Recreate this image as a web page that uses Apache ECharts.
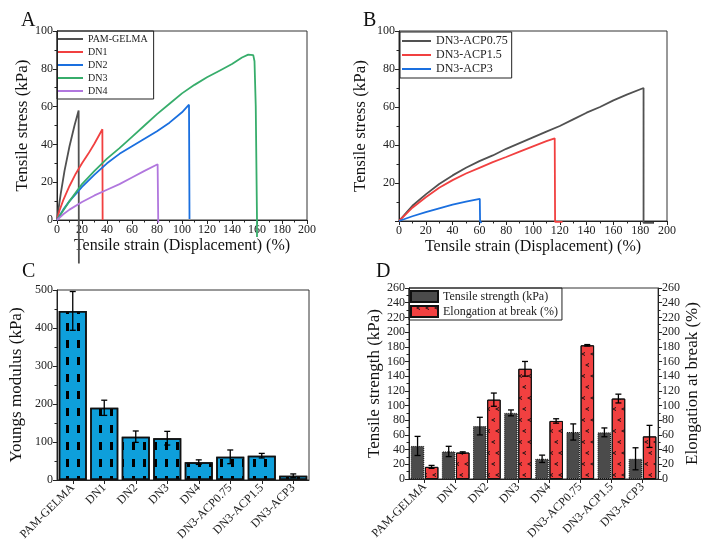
<!DOCTYPE html>
<html><head><meta charset="utf-8">
<script src="https://cdn.jsdelivr.net/npm/echarts@6/dist/echarts.min.js"></script>
<style>html,body{margin:0;padding:0;background:#fff}#c{width:702px;height:544px}</style>
</head><body><div id="c"></div><script>
const FONT = '"Liberation Serif","Times New Roman",serif';

// ---- Panel A: stress-strain curves [strain %, stress kPa]
const pamGelmaCurve = [[0,0],[1,5],[3,14],[6,26],[10,39],[14,50],[17.3,58],[17.5,-23]];
const dn1Curve = [[0,0],[2,5],[5,10.5],[10,18],[15,24.5],[20,30],[25,35],[30,40.5],[36.3,48],[36.5,0]];
const dn2Curve = [[0,0],[5,5.5],[10,10],[20,17.5],[30,24],[40,30],[50,35],[60,39],[70,43],[80,47],[90,51.5],[100,57],[105.6,61],[106,0.5]];
const dn3Curve = [[0,0],[5,5],[10,10],[20,19],[30,26],[40,32.5],[50,38],[60,44],[70,50],[80,56],[90,61.5],[100,67],[110,71.5],[120,75.5],[130,79],[140,82.5],[148,86],[153,87.5],[157,87.2],[158,84],[159,60],[160,0],[160,-9]];
const dn4Curve = [[0,0],[5,3],[10,5.5],[20,9.5],[30,13],[40,16],[50,19],[60,22.5],[70,26],[80.5,29.5],[81,-1.5]];

// ---- Panel B
const acp075Curve = [[0,0],[5,4],[10,8],[20,14],[30,19.5],[40,24],[50,28],[60,31.5],[70,34.5],[80,38],[90,41],[100,44],[110,47],[120,50],[130,53.5],[140,57],[150,60],[160,63.5],[170,66.5],[182.5,70],[182.5,-1],[190,-1]];
const acp15Curve = [[0,0],[5,3.5],[10,7],[20,12.5],[30,17.5],[40,21.5],[50,25],[60,28],[70,31],[80,33.7],[90,36.5],[100,39.3],[110,42],[116.2,43.5],[116.5,-0.5],[122,-0.5]];
const acp3Curve = [[0,0],[10,2.5],[20,4.7],[30,6.7],[40,8.6],[50,10.2],[60.3,11.7],[60.5,0],[61.5,-1]];

// ---- Panels C & D
const categories = ['PAM-GELMA','DN1','DN2','DN3','DN4','DN3-ACP0.75','DN3-ACP1.5','DN3-ACP3'];
const youngs = [445,190,114,110,47,61,64,11];
const youngsErr = [51,20,15,18,6,18,6,5];
const strength = [45,37.5,72,90,27.5,64,63.5,27.5];
const strengthErr = [13,7,12,4,5,11,6,15];
const elongation = [16.5,36,108,150,79,182,109.5,58];
const elongationErr = [2,1,9,10,3,1,6,15];

const C_ORI = ['#515151','#F14040','#1A6FDF','#37AD6B','#B177DE'];

function valAxis(extra){
  return Object.assign({
    type:'value',
    axisLine:{show:true,onZero:false,lineStyle:{color:'#222',width:1}},
    axisTick:{show:true,inside:false,length:4,lineStyle:{color:'#222'}},
    minorTick:{show:true,splitNumber:2,length:2.5,lineStyle:{color:'#222'}},
    splitLine:{show:false},
    axisLabel:{color:'#222',fontFamily:FONT,fontSize:12,margin:4},
    nameTextStyle:{color:'#111',fontFamily:FONT,fontSize:17},
    nameLocation:'middle'
  }, extra);
}
function catAxis(extra){
  return Object.assign({
    type:'category', data:categories,
    axisLine:{show:true,lineStyle:{color:'#222',width:1}},
    axisTick:{show:true,alignWithLabel:true,length:4,lineStyle:{color:'#222'}},
    axisLabel:{color:'#222',fontFamily:FONT,fontSize:12,rotate:45,margin:6,interval:0},
    splitLine:{show:false}
  }, extra);
}
function lineSeries(name, data, color, xi, clip){
  return {type:'line', name, data, xAxisIndex:xi, yAxisIndex:xi, symbol:'none',
    lineStyle:{color, width:1.8}, itemStyle:{color}, clip: clip!==false, z:3};
}
function errSeries(xi, yi, vals, errs, offset, cap){
  return {type:'custom', xAxisIndex:xi, yAxisIndex:yi, z:10, silent:true,
    data: vals.map((v,i)=>[i, v-errs[i], v+errs[i]]),
    encode:{x:0,y:[1,2]},
    renderItem:(params, api)=>{
      const lo = api.coord([api.value(0), api.value(1)]);
      const hi = api.coord([api.value(0), api.value(2)]);
      const x = lo[0]+offset;
      const st = {stroke:'#000', lineWidth:1.3};
      return {type:'group', children:[
        {type:'line',shape:{x1:x,y1:lo[1],x2:x,y2:hi[1]},style:st},
        {type:'line',shape:{x1:x-cap,y1:hi[1],x2:x+cap,y2:hi[1]},style:st},
        {type:'line',shape:{x1:x-cap,y1:lo[1],x2:x+cap,y2:lo[1]},style:st}
      ]};
    }};
}

const gridBase = {show:true, borderColor:'#333', borderWidth:1, backgroundColor:'transparent'};
const chart = echarts.init(document.getElementById('c'));
chart.setOption({
  animation:false,
  backgroundColor:'#fff',
  textStyle:{fontFamily:FONT},
  grid:[
    Object.assign({left:57, top:31, width:250, height:189}, gridBase),
    Object.assign({left:399, top:31, width:268, height:190}, gridBase),
    Object.assign({left:57, top:290, width:252, height:190}, gridBase),
    Object.assign({left:409, top:288, width:253, height:191}, gridBase)
  ],
  xAxis:[
    valAxis({gridIndex:0, min:0, max:200, interval:20, name:'Tensile strain (Displacement) (%)', nameGap:18, nameTextStyle:{color:'#111',fontFamily:FONT,fontSize:16}}),
    valAxis({gridIndex:1, min:0, max:200, interval:20, name:'Tensile strain (Displacement) (%)', nameGap:18, nameTextStyle:{color:'#111',fontFamily:FONT,fontSize:16}}),
    catAxis({gridIndex:2}),
    catAxis({gridIndex:3})
  ],
  yAxis:[
    valAxis({gridIndex:0, min:0, max:100, interval:20, name:'Tensile stress (kPa)', nameGap:26}),
    valAxis({gridIndex:1, min:0, max:100, interval:20, name:'Tensile stress (kPa)', nameGap:30, axisLabel:{color:'#222',fontFamily:FONT,fontSize:12,margin:4,showMinLabel:false}}),
    valAxis({gridIndex:2, min:0, max:500, interval:100, name:'Youngs modulus (kPa)', nameGap:32}),
    valAxis({gridIndex:3, min:0, max:260, interval:20, name:'Tensile strength (kPa)', nameGap:26}),
    valAxis({gridIndex:3, min:0, max:260, interval:20, position:'right', name:'Elongation at break (%)', nameGap:24, nameRotate:90})
  ],
  legend:[
    {left:57, top:31, orient:'vertical', data:['PAM-GELMA','DN1','DN2','DN3','DN4'], icon:'rect',
     itemWidth:25, itemHeight:2, itemGap:3, textStyle:{fontFamily:FONT,fontSize:10,color:'#222',lineHeight:9.5},
     borderColor:'#222', borderWidth:1, padding:[3,6,3,1]},
    {left:400, top:32, orient:'vertical', data:['DN3-ACP0.75','DN3-ACP1.5','DN3-ACP3'], icon:'rect',
     itemWidth:29, itemHeight:2, itemGap:2, textStyle:{fontFamily:FONT,fontSize:12,color:'#222',lineHeight:11.5},
     borderColor:'#222', borderWidth:1, padding:[3,4,3,2]},
    {left:409, top:288, orient:'vertical', data:['Tensile strength (kPa)','Elongation at break (%)'], icon:'rect',
     itemWidth:27, itemHeight:11, itemGap:2, textStyle:{fontFamily:FONT,fontSize:12,color:'#222'},
     borderColor:'#222', borderWidth:1, padding:[2,4,2,1]}
  ],
  graphic:[
    {type:'text', left:21, top:11, style:{text:'A', font:'20px '+FONT, fill:'#111'}},
    {type:'text', left:363, top:11, style:{text:'B', font:'20px '+FONT, fill:'#111'}},
    {type:'text', left:22, top:262, style:{text:'C', font:'20px '+FONT, fill:'#111'}},
    {type:'text', left:376, top:262, style:{text:'D', font:'20px '+FONT, fill:'#111'}}
  ],
  series:[
    lineSeries('PAM-GELMA', pamGelmaCurve, C_ORI[0], 0, false),
    lineSeries('DN1', dn1Curve, C_ORI[1], 0),
    lineSeries('DN2', dn2Curve, C_ORI[2], 0),
    lineSeries('DN3', dn3Curve, C_ORI[3], 0, false),
    lineSeries('DN4', dn4Curve, C_ORI[4], 0, false),
    lineSeries('DN3-ACP0.75', acp075Curve, C_ORI[0], 1, false),
    lineSeries('DN3-ACP1.5', acp15Curve, C_ORI[1], 1, false),
    lineSeries('DN3-ACP3', acp3Curve, C_ORI[2], 1, false),
    {type:'bar', name:'Youngs modulus', xAxisIndex:2, yAxisIndex:2, data:youngs, barWidth:28,
     itemStyle:{color:'#0E9FDB', borderColor:'#111', borderWidth:1.5,
       decal:{symbol:'rect', symbolSize:1, symbolKeepAspect:false, dashArrayX:[2.5,7.5], dashArrayY:[8,9], color:'#000'}}},
    errSeries(2, 2, youngs, youngsErr, 0, 3),
    {type:'bar', name:'Tensile strength (kPa)', xAxisIndex:3, yAxisIndex:3, data:strength, barWidth:13.5, barGap:'5%',
     itemStyle:{color:'#4B4B4B', borderColor:'#111', borderWidth:1, borderType:'dotted'}},
    {type:'bar', name:'Elongation at break (%)', xAxisIndex:3, yAxisIndex:4, data:elongation, barWidth:13.5, barGap:'5%',
     itemStyle:{color:'#F14040', borderColor:'#111', borderWidth:1,
       decal:{symbol:'path://M10,0 L0,5 L10,10 L10,7.5 L4.5,5 L10,2.5 Z', symbolSize:1, dashArrayX:[[4,5],[0,5,4,0]], dashArrayY:[4,7], color:'#111'}}},
    errSeries(3, 3, strength, strengthErr, -7, 3),
    errSeries(3, 4, elongation, elongationErr, 7, 3)
  ]
});
</script></body></html>
